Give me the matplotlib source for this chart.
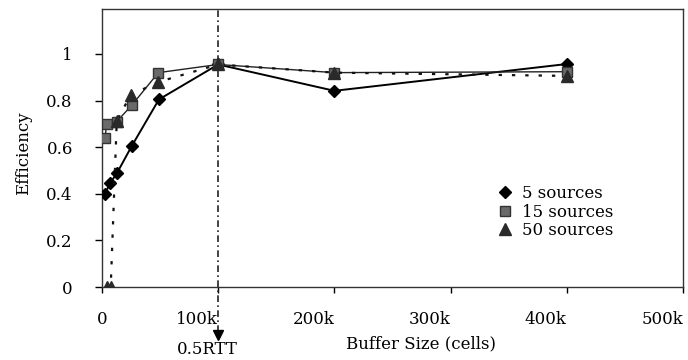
import matplotlib
matplotlib.use("Agg")
import matplotlib.pyplot as plt

# buffer size (cells) / efficiency
x_5 = [2600, 6900, 13000, 25600, 49000, 100000, 200000, 400000]
eff_5 = [0.40, 0.445, 0.49, 0.605, 0.805, 0.955, 0.842, 0.957]

x_15 = [2600, 4000, 12700, 25600, 48500, 100000, 200000, 400000]
eff_15 = [0.638, 0.70, 0.71, 0.78, 0.92, 0.955, 0.92, 0.924]

x_50 = [4000, 7500, 12700, 24700, 48500, 100000, 200000, 400000]
eff_50 = [0.0, 0.0, 0.714, 0.824, 0.88, 0.955, 0.92, 0.906]

labels = ["5 sources", "15 sources", "50 sources"]
xticks = [0, 100000, 200000, 300000, 400000, 500000]
xtick_labels = ["0", "100k", "200k", "300k", "400k", "500k"]
yticks = [0, 0.2, 0.4, 0.6, 0.8, 1.0]
ytick_labels = ["0", "0.2", "0.4", "0.6", "0.8", "1"]
rtt_x = 100000

plt.rcParams['font.family'] = ['DejaVu Serif']
plt.rcParams['font.size'] = 12

fig = plt.figure(figsize=(6.88, 3.6), dpi=100)
ax = fig.add_axes([102/688, 73/360, 581/688, 278/360])

ax.plot(x_5, eff_5, color='black', lw=1.4, marker='D', ms=6,
        mfc='black', mec='black', label=labels[0], zorder=3)
ax.plot(x_15, eff_15, color='#222222', lw=1.0, marker='s', ms=7,
        mfc='#6a6a6a', mec='#333333', label=labels[1], zorder=4)
ax.plot(x_50, eff_50, color='#111111', lw=1.6, ls=(0, (1.5, 4.5)),
        marker='^', ms=8, mfc='#2a2a2a', mec='#2a2a2a', label=labels[2], zorder=5)

# 0.5 RTT marker line, running below the axis to an arrow
ax.plot([rtt_x, rtt_x], [-0.193, 1.193], color='#222222', lw=1.2,
        ls=(0, (4, 2, 1, 2)), clip_on=False, zorder=2)
ax.plot([rtt_x], [-0.205], marker='v', ms=7, color='black', clip_on=False)
ax.text(90500, -0.27, "0.5RTT", ha='center', va='center', fontsize=12)

ax.set_xlim(0, 500000)
ax.set_ylim(0, 278/233)
ax.set_xticks(xticks)
ax.set_xticklabels(xtick_labels)
ax.set_yticks(yticks)
ax.set_yticklabels(ytick_labels)
for lab in ax.get_xticklabels()[1:]:
    lab.set_ha('right')

ax.tick_params(axis='x', direction='out', length=4.3, pad=13, width=1)
ax.tick_params(axis='y', direction='out', length=5, pad=16, width=1)
for sp in ax.spines.values():
    sp.set_color('#333333')
    sp.set_linewidth(1.0)

ax.set_xlabel("Buffer Size (cells)")
ax.xaxis.set_label_coords((421-102)/581, -0.173)
ax.set_ylabel("Efficiency")
ax.yaxis.set_label_coords(-0.12, 0.482)

ax.legend(loc='upper left', bbox_to_anchor=((497-102)/581, 0.367),
          frameon=False, borderpad=0, borderaxespad=0, handlelength=1.0,
          handletextpad=0.5, labelspacing=0.1, numpoints=1)
for h in ax.get_legend().get_lines():
    h.set_linestyle('none')

fig.savefig("out.png", dpi=100)
